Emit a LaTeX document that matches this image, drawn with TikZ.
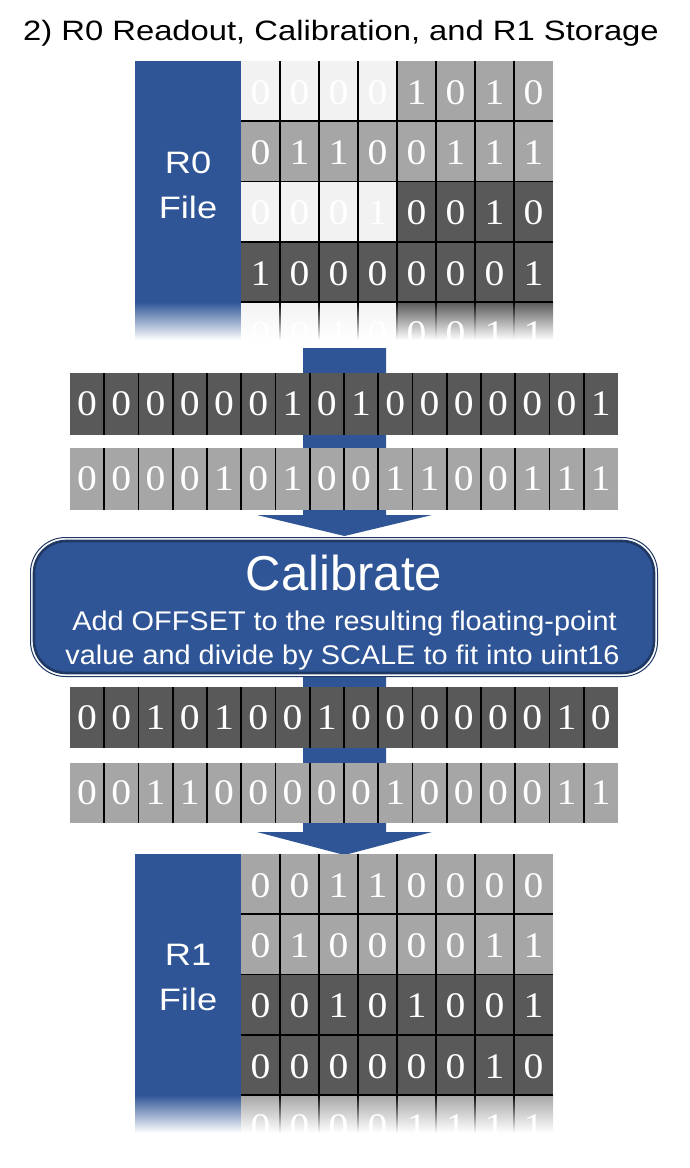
\documentclass[tikz,border=0pt]{standalone}
\usepackage{fontspec}
\setmainfont{Liberation Sans}
\newfontfamily\titlefont[FakeStretch=1.17]{Liberation Sans}
\newfontfamily\subfont[FakeStretch=1.07]{Liberation Sans}
\newfontfamily\digitfont[FakeStretch=1.1]{Liberation Serif}
\definecolor{pblue}{HTML}{2F5597}
\definecolor{pnavy}{HTML}{1F3864}
\definecolor{cdark}{HTML}{595959}
\definecolor{cgray}{HTML}{A6A6A6}
\definecolor{clight}{HTML}{F2F2F2}
% grid row: #1 prefix, #2 top y, #3 list colour/digit
\newcommand{\gridrowX}[3]{%
  \foreach \cc/\dd [count=\ii] in {#3}{%
    \fill[\cc] ({241+(\ii-1)*39},#2) rectangle ++(39,60.25);
    \node[digit] (#1-\ii) at ({241+(\ii-0.5)*39},{#2+31.5}) {\dd};
  }}
\newcommand{\gridfadeX}[3]{%
  \begin{scope}
    \clip (241,#2) rectangle (553,{#2+38});
    \foreach \cc/\dd [count=\ii] in {#3}{%
      \shade[top color=\cc, bottom color=white] ({241+(\ii-1)*39},#2) rectangle ++(39,38);
      \node[digit] (#1-\ii) at ({241+(\ii-0.5)*39},{#2+31.5}) {\dd};
    }
    \foreach \k in {1,...,7}{%
      \shade[top color=black, bottom color=white] ({241+\k*39-0.8},#2) rectangle ({241+\k*39+0.8},{#2+38});
    }
  \end{scope}}
\newcommand{\gridlinesX}[1]{%
  \foreach \k in {1,...,7}{\draw[gline] ({241+\k*39},#1) -- ({241+\k*39},{#1+241});}
  \foreach \j in {1,...,4}{\draw[gline] (241,{#1+\j*60.25}) -- (553,{#1+\j*60.25});}}
% strip row: #1 prefix, #2 top y, #3 height, #4 colour, #5 digits
\newcommand{\striprowX}[5]{%
  \fill[#4] (70,#2) rectangle (618,{#2+#3});
  \foreach \dd [count=\ii] in {#5}{%
    \node[digit] (#1-\ii) at ({70+(\ii-0.5)*34.25},{#2+#3/2}) {\dd};
  }
  \foreach \k in {1,...,15}{\draw[gline] ({70+\k*34.25},#2) -- ({70+\k*34.25},{#2+#3});}}
\begin{document}
\begin{tikzpicture}[x=1pt,y=-1pt,
  digit/.style={font=\digitfont\fontsize{36}{36}\selectfont, text=white, inner sep=0pt},
  gline/.style={draw=black, line width=1.6pt},
  filetext/.style={font=\titlefont\fontsize{31}{36}\selectfont, text=white, anchor=base, inner sep=0pt},
  blockarrow/.style={fill=pblue}]
\useasboundingbox[fill=white] (0,0) rectangle (689,1168);

% title
\node[font=\titlefont\fontsize{28}{34}\selectfont, anchor=base, inner sep=0pt] (title) at (341,40) {2) R0 Readout, Calibration, and R1 Storage};

% ---------- R0 file ----------
\fill[pblue] (135,61) rectangle (241,302.5);
\shade[top color=pblue, bottom color=white] (135,302) rectangle (241,340);
\node[filetext] (r0a) at (188,173) {R0};
\node[filetext] (r0b) at (188,218) {File};
\gridrowX{ra}{61}{clight/0,clight/0,clight/0,clight/0,cgray/1,cgray/0,cgray/1,cgray/0}
\gridrowX{rb}{121.25}{cgray/0,cgray/1,cgray/1,cgray/0,cgray/0,cgray/1,cgray/1,cgray/1}
\gridrowX{rc}{181.5}{clight/0,clight/0,clight/0,clight/1,cdark/0,cdark/0,cdark/1,cdark/0}
\gridrowX{rd}{241.75}{cdark/1,cdark/0,cdark/0,cdark/0,cdark/0,cdark/0,cdark/0,cdark/1}
\gridfadeX{re}{302}{clight/0,clight/0,clight/1,clight/0,cdark/0,cdark/0,cdark/1,cdark/1}
\gridlinesX{61}

% ---------- arrow 1 ----------
\coordinate (a1tip) at (344.5,536);
\fill[blockarrow] (303,348) -- (386,348) -- (386,515) -- (432,515) -- (a1tip) -- (257,515) -- (303,515) -- cycle;

% ---------- strips before calibration ----------
\striprowX{sa}{373}{62}{cdark}{0,0,0,0,0,0,1,0,1,0,0,0,0,0,0,1}
\striprowX{sb}{448}{62}{cgray}{0,0,0,0,1,0,1,0,0,1,1,0,0,1,1,1}

% ---------- arrow 2 ----------
\coordinate (a2tip) at (344.5,855);
\fill[blockarrow] (303,660) -- (386,660) -- (386,832) -- (432,832) -- (a2tip) -- (257,832) -- (303,832) -- cycle;

% ---------- calibrate box ----------
\node[draw=pnavy, line width=1pt, fill=white, rounded corners=35pt, minimum width=627pt, minimum height=139pt, inner sep=0pt] (cal) at (344,607) {};
\node[draw=pnavy, line width=2.6pt, fill=pblue, rounded corners=32pt, minimum width=620pt, minimum height=132pt, inner sep=0pt] (calin) at (cal.center) {};
\node[font=\fontsize{49}{56}\selectfont, text=white, anchor=base, inner sep=0pt] (caltitle) at (344,590) {Calibrate};
\node[font=\subfont\fontsize{27}{34}\selectfont, text=white, anchor=base, inner sep=0pt] (calsub1) at (344.5,630) {Add OFFSET to the resulting floating-point};
\node[font=\subfont\fontsize{27}{34}\selectfont, text=white, anchor=base, inner sep=0pt] (calsub2) at (342.5,664) {value and divide by SCALE to fit into uint16};

% ---------- strips after calibration ----------
\striprowX{sc}{687}{61}{cdark}{0,0,1,0,1,0,0,1,0,0,0,0,0,0,1,0}
\striprowX{sd}{763}{60}{cgray}{0,0,1,1,0,0,0,0,0,1,0,0,0,0,1,1}

% ---------- R1 file ----------
\fill[pblue] (135,854) rectangle (241,1095.5);
\shade[top color=pblue, bottom color=white] (135,1095) rectangle (241,1133);
\node[filetext] (r1a) at (188,965) {R1};
\node[filetext] (r1b) at (188,1010) {File};
\gridrowX{ta}{854}{cgray/0,cgray/0,cgray/1,cgray/1,cgray/0,cgray/0,cgray/0,cgray/0}
\gridrowX{tb}{914.25}{cgray/0,cgray/1,cgray/0,cgray/0,cgray/0,cgray/0,cgray/1,cgray/1}
\gridrowX{tc}{974.5}{cdark/0,cdark/0,cdark/1,cdark/0,cdark/1,cdark/0,cdark/0,cdark/1}
\gridrowX{td}{1034.75}{cdark/0,cdark/0,cdark/0,cdark/0,cdark/0,cdark/0,cdark/1,cdark/0}
\gridfadeX{te}{1095}{cgray/0,cgray/0,cgray/0,cgray/0,cgray/1,cgray/1,cgray/1,cgray/1}
\gridlinesX{854}
\end{tikzpicture}
\end{document}
